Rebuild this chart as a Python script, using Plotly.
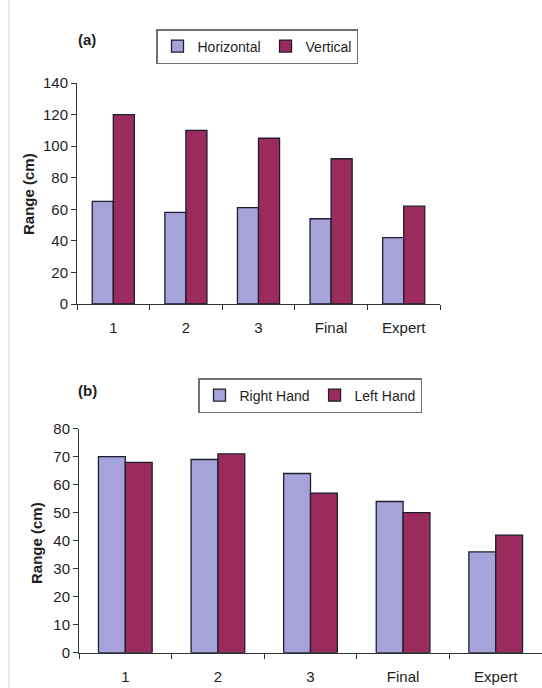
import plotly.graph_objects as go

categories = ["1", "2", "3", "Final", "Expert"]
horizontal = [65, 58, 61, 54, 42]
vertical = [120, 110, 105, 92, 62]
right_hand = [70, 69, 64, 54, 36]
left_hand = [68, 71, 57, 50, 42]
yticks_a = [0, 20, 40, 60, 80, 100, 120, 140]
yticks_b = [0, 10, 20, 30, 40, 50, 60, 70, 80]

W, H = 542, 688
LAV = "#a6a3da"
MAR = "#9c2b5d"
EDGE = "#1e1e2e"
AX = "#333333"
TXT = "#1e1e1e"
FONT = "Liberation Sans, Arial, sans-serif"

def px(x):
    return x / W

def py(y):
    return 1 - y / H

fig = go.Figure()
fig.add_trace(go.Bar(x=categories, y=horizontal, name="Horizontal", marker=dict(color=LAV, line=dict(color=EDGE, width=1.3)),
                     xaxis="x", yaxis="y", legend="legend"))
fig.add_trace(go.Bar(x=categories, y=vertical, name="Vertical", marker=dict(color=MAR, line=dict(color=EDGE, width=1.3)),
                     xaxis="x", yaxis="y", legend="legend"))
fig.add_trace(go.Bar(x=categories, y=right_hand, name="Right Hand", marker=dict(color=LAV, line=dict(color=EDGE, width=1.3)),
                     xaxis="x2", yaxis="y2", legend="legend2"))
fig.add_trace(go.Bar(x=categories, y=left_hand, name="Left Hand", marker=dict(color=MAR, line=dict(color=EDGE, width=1.3)),
                     xaxis="x2", yaxis="y2", legend="legend2"))

xcommon = dict(type="category", range=[-0.5, 4.5], showline=True, linecolor=AX, linewidth=1,
               ticks="outside", tickson="boundaries", ticklen=5, tickcolor=AX, showgrid=False,
               tickfont=dict(size=15, color=TXT, family=FONT), ticklabelstandoff=10,
               automargin=False, fixedrange=True)
ycommon = dict(showline=True, linecolor=AX, linewidth=1, ticks="outside", ticklen=5, tickcolor=AX,
               showgrid=False, zeroline=False, tickfont=dict(size=15, color=TXT, family=FONT),
               automargin=False, fixedrange=True)

legcommon = dict(orientation="h", bgcolor="white", bordercolor="#707070", borderwidth=1.5,
                 font=dict(size=14, color=TXT, family=FONT), xanchor="center", yanchor="top",
                 traceorder="normal", itemclick=False)

fig.update_layout(
    template="none",
    width=W, height=H, margin=dict(l=0, r=0, t=0, b=0, pad=0, autoexpand=False),
    paper_bgcolor="white", plot_bgcolor="white",
    barmode="group", bargap=0.42, bargroupgap=0,
    font=dict(family=FONT, color=TXT),
    xaxis=dict(xcommon, domain=[px(77), px(440)], anchor="y"),
    yaxis=dict(ycommon, domain=[py(304), py(83)], range=[0, 140], tickvals=yticks_a, anchor="x"),
    xaxis2=dict(xcommon, domain=[px(79), 1.0], anchor="y2"),
    yaxis2=dict(ycommon, domain=[py(652.7), py(428.7)], range=[0, 80], tickvals=yticks_b, anchor="x2"),
    legend=dict(legcommon, x=px(257), y=py(29)),
    legend2=dict(legcommon, x=px(310), y=py(378)),
    showlegend=True,
    annotations=[
        dict(text="<b>(a)</b>", xref="paper", yref="paper", x=px(76), y=py(40), xanchor="left", yanchor="middle",
             showarrow=False, font=dict(size=15, family=FONT, color=TXT)),
        dict(text="<b>(b)</b>", xref="paper", yref="paper", x=px(76), y=py(390), xanchor="left", yanchor="middle",
             showarrow=False, font=dict(size=15, family=FONT, color=TXT)),
        dict(text="<b>Range (cm)</b>", xref="paper", yref="paper", x=px(28), y=py(194), textangle=-90,
             xanchor="center", yanchor="middle", showarrow=False, font=dict(size=15, family=FONT, color=TXT)),
        dict(text="<b>Range (cm)</b>", xref="paper", yref="paper", x=px(36), y=py(543), textangle=-90,
             xanchor="center", yanchor="middle", showarrow=False, font=dict(size=15, family=FONT, color=TXT)),
    ],
    shapes=[
        dict(type="line", xref="paper", yref="paper", x0=px(9), x1=px(9), y0=0, y1=1,
             line=dict(color="#d6d6d6", width=1)),
    ],
)

fig.write_html("out.html", config={"displayModeBar": False},
               post_script="document.body.style.margin='0';document.body.style.overflow='hidden';")
